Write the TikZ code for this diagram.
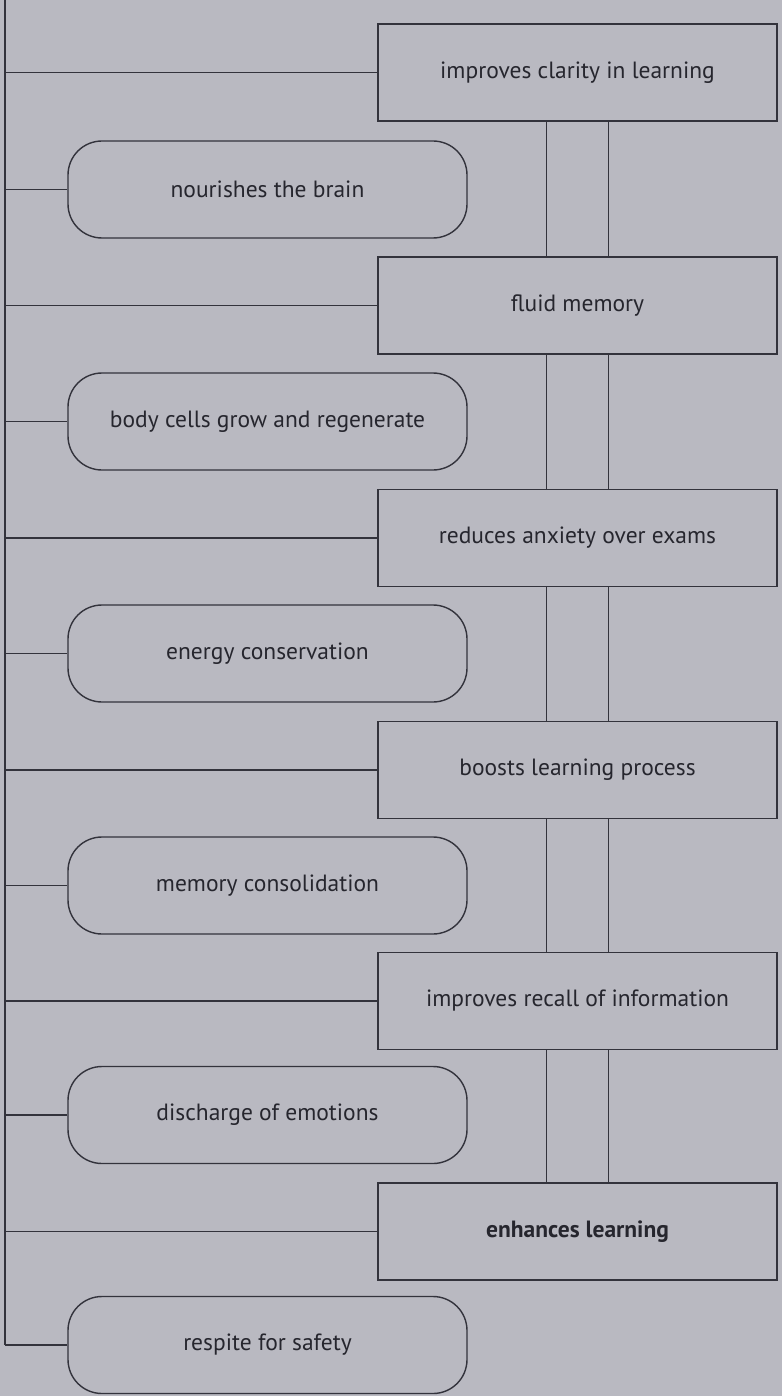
\documentclass[tikz,border=0pt]{standalone}
\usepackage{fontspec}
\setmainfont{PT Sans}
\definecolor{bg}{HTML}{B9B9C1}
\definecolor{ln}{HTML}{33333C}
\definecolor{tx}{HTML}{26262E}
\begin{document}
\begin{tikzpicture}[x=1pt,y=-1pt,
  conn/.style={draw=ln, line width=1.4pt},
  rectbox/.style={draw=ln, line width=1.4pt, minimum width=399pt, minimum height=97pt, inner sep=0pt, font=\fontsize{23.5}{26}\selectfont, text=tx},
  roundbox/.style={draw=ln, line width=1.4pt, rounded corners=34pt, minimum width=399pt, minimum height=97pt, inner sep=0pt, font=\fontsize{23.5}{26}\selectfont, text=tx}]
\fill[bg] (0,0) rectangle (782,1396);
\useasboundingbox (0,0) rectangle (782,1396);
% rectangular boxes
\node[rectbox] (r1) at (577.5,72.5) {improves clarity in learning};
\node[rectbox] (r2) at (577.5,305.5) {fluid memory};
\node[rectbox] (r3) at (577.5,538) {reduces anxiety over exams};
\node[rectbox] (r4) at (577.5,770) {boosts learning process};
\node[rectbox] (r5) at (577.5,1001) {improves recall of information};
\node[rectbox] (r6) at (577.5,1231.5) {\bfseries enhances learning};
% rounded boxes
\node[roundbox] (o1) at (267.5,189.5) {nourishes the brain};
\node[roundbox] (o2) at (267.5,421.5) {body cells grow and regenerate};
\node[roundbox] (o3) at (267.5,653.5) {energy conservation};
\node[roundbox] (o4) at (267.5,885.5) {memory consolidation};
\node[roundbox] (o5) at (267.5,1115) {discharge of emotions};
\node[roundbox] (o6) at (267.5,1345) {respite for safety};
% spine
\coordinate (top) at (5,0);
\coordinate (bot) at (5,1345);
\draw[conn] (top) -- (bot);
\foreach \n in {r1,r2,r3,r4,r5,r6,o1,o2,o3,o4,o5}{
  \draw[conn] (\n.west) -- (\n.west -| top);
}
\draw[conn] (o6.west) -- (bot);
% double connectors between rectangles
\foreach \a/\b in {r1/r2,r2/r3,r3/r4,r4/r5,r5/r6}{
  \draw[conn] ([xshift=-31pt]\a.south) -- ([xshift=-31pt]\b.north);
  \draw[conn] ([xshift=31pt]\a.south) -- ([xshift=31pt]\b.north);
}
\end{tikzpicture}
\end{document}
